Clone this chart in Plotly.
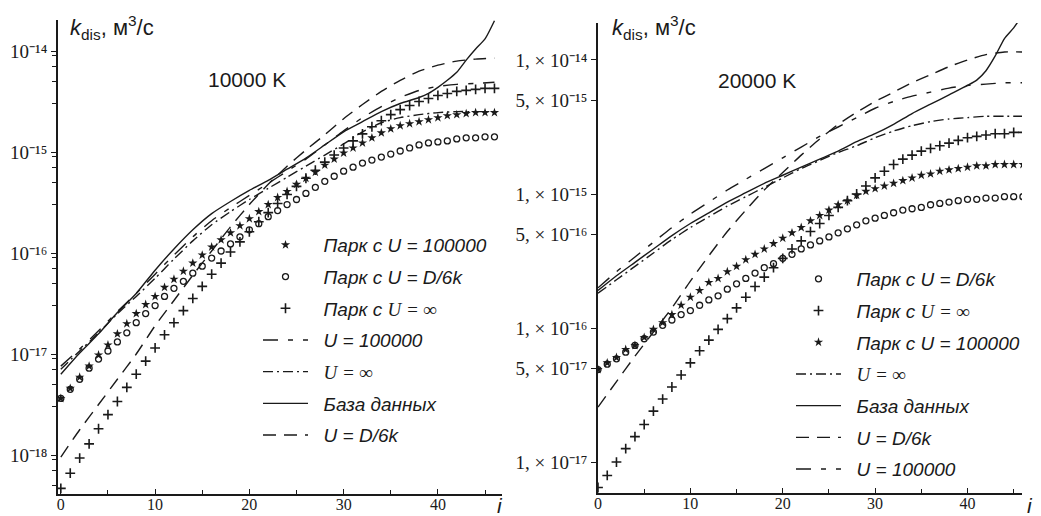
import plotly.graph_objects as go

W, H = 1041, 516

# ---------------- data (log10 of k_dis, m^3/s) ----------------
i_pts = list(range(47))

# 10000 K panel
L_park_100000 = [-17.44,-17.34,-17.23,-17.12,-17.01,-16.91,-16.80,-16.70,-16.60,-16.51,
                 -16.43,-16.34,-16.26,-16.18,-16.10,-16.02,-15.94,-15.87,-15.80,-15.73,
                 -15.66,-15.59,-15.52,-15.45,-15.39,-15.32,-15.26,-15.20,-15.13,-15.07,
                 -15.01,-14.96,-14.91,-14.86,-14.81,-14.77,-14.74,-14.72,-14.70,-14.68,
                 -14.66,-14.64,-14.63,-14.62,-14.61,-14.61,-14.61]
L_park_D6k = [-17.44,-17.35,-17.25,-17.14,-17.05,-16.97,-16.88,-16.79,-16.69,-16.60,
              -16.52,-16.43,-16.35,-16.28,-16.20,-16.13,-16.05,-15.98,-15.91,-15.84,
              -15.77,-15.71,-15.64,-15.58,-15.52,-15.47,-15.41,-15.35,-15.29,-15.24,
              -15.19,-15.15,-15.11,-15.08,-15.05,-15.02,-14.99,-14.96,-14.93,-14.91,
              -14.90,-14.89,-14.87,-14.86,-14.86,-14.85,-14.85]
L_park_inf = [-18.33,-18.18,-18.03,-17.89,-17.74,-17.60,-17.47,-17.33,-17.20,-17.07,
              -16.94,-16.81,-16.69,-16.57,-16.45,-16.33,-16.21,-16.10,-15.99,-15.89,
              -15.79,-15.69,-15.60,-15.51,-15.42,-15.34,-15.26,-15.18,-15.10,-15.03,
              -14.96,-14.89,-14.82,-14.75,-14.69,-14.63,-14.58,-14.54,-14.50,-14.47,
              -14.44,-14.42,-14.40,-14.39,-14.38,-14.37,-14.37]

i_lines = list(range(0, 47, 2))
L_u100000 = [-17.12,-16.95,-16.77,-16.58,-16.40,-16.21,-16.02,-15.84,-15.68,-15.55,
             -15.43,-15.31,-15.19,-15.07,-14.93,-14.79,-14.66,-14.55,-14.46,-14.39,
             -14.35,-14.33,-14.32,-14.31]
L_uinf = [-17.15,-16.97,-16.79,-16.60,-16.43,-16.25,-16.06,-15.88,-15.72,-15.59,
          -15.47,-15.36,-15.25,-15.14,-15.03,-14.92,-14.80,-14.71,-14.66,-14.63,
          -14.61,-14.60,-14.60,-14.60]
L_uD6k = [-18.02,-17.75,-17.50,-17.25,-17.00,-16.72,-16.47,-16.22,-15.98,-15.74,
          -15.52,-15.32,-15.14,-14.98,-14.83,-14.67,-14.53,-14.40,-14.29,-14.20,
          -14.14,-14.10,-14.08,-14.07]
i_db_L = [0,2,4,6,8,10,12,14,16,18,20,22,24,26,28,30,32,34,36,38,39,40,41,42,43,44,45,46]
L_db = [-17.20,-16.99,-16.80,-16.59,-16.40,-16.17,-15.96,-15.77,-15.61,-15.49,
        -15.38,-15.28,-15.17,-15.06,-14.93,-14.80,-14.70,-14.60,-14.52,-14.46,
        -14.42,-14.36,-14.29,-14.21,-14.09,-13.98,-13.88,-13.70]

# 20000 K panel
R_park_D6k = [-16.31,-16.27,-16.23,-16.18,-16.13,-16.08,-16.03,-15.98,-15.94,-15.90,
              -15.87,-15.83,-15.79,-15.76,-15.71,-15.67,-15.63,-15.59,-15.55,-15.52,
              -15.48,-15.45,-15.41,-15.38,-15.35,-15.32,-15.29,-15.26,-15.23,-15.20,
              -15.18,-15.16,-15.14,-15.12,-15.11,-15.10,-15.08,-15.07,-15.06,-15.05,
              -15.04,-15.04,-15.03,-15.03,-15.02,-15.02,-15.02]
R_park_inf = [-17.19,-17.10,-17.00,-16.90,-16.81,-16.72,-16.62,-16.53,-16.44,-16.35,
              -16.26,-16.17,-16.09,-16.01,-15.93,-15.85,-15.77,-15.69,-15.62,-15.55,
              -15.48,-15.41,-15.35,-15.28,-15.22,-15.16,-15.10,-15.05,-15.00,-14.94,
              -14.88,-14.83,-14.78,-14.74,-14.71,-14.68,-14.66,-14.64,-14.62,-14.60,
              -14.58,-14.57,-14.56,-14.55,-14.55,-14.54,-14.54]
R_park_100000 = [-16.31,-16.26,-16.22,-16.16,-16.13,-16.07,-16.01,-15.96,-15.90,-15.83,
                 -15.77,-15.72,-15.66,-15.63,-15.58,-15.54,-15.49,-15.45,-15.41,-15.37,
                 -15.33,-15.29,-15.25,-15.20,-15.16,-15.12,-15.08,-15.05,-15.01,-14.98,
                 -14.96,-14.94,-14.92,-14.90,-14.88,-14.86,-14.85,-14.83,-14.82,-14.81,
                 -14.80,-14.79,-14.79,-14.78,-14.78,-14.78,-14.78]
R_uinf = [-15.74,-15.64,-15.54,-15.44,-15.34,-15.25,-15.17,-15.09,-15.02,-14.95,
          -14.88,-14.81,-14.75,-14.69,-14.64,-14.58,-14.53,-14.49,-14.46,-14.44,
          -14.43,-14.42,-14.42,-14.42]
i_db_R = [0,2,4,6,8,10,12,14,16,18,20,22,24,26,28,30,32,34,36,38,40,41,42,43,44,45,46]
R_db = [-15.72,-15.61,-15.51,-15.41,-15.31,-15.22,-15.14,-15.06,-14.99,-14.92,
        -14.86,-14.80,-14.74,-14.68,-14.61,-14.55,-14.48,-14.40,-14.33,-14.26,
        -14.19,-14.15,-14.08,-13.97,-13.84,-13.76,-13.66]
R_uD6k = [-16.59,-16.40,-16.21,-16.03,-15.85,-15.65,-15.46,-15.28,-15.12,-14.97,
          -14.84,-14.71,-14.59,-14.48,-14.39,-14.31,-14.24,-14.17,-14.11,-14.05,
          -14.00,-13.96,-13.94,-13.94]
R_u100000 = [-15.70,-15.58,-15.47,-15.36,-15.25,-15.15,-15.06,-14.97,-14.89,-14.81,
             -14.73,-14.65,-14.57,-14.50,-14.43,-14.36,-14.31,-14.27,-14.24,-14.21,
             -14.19,-14.18,-14.17,-14.17]

x_ticks = [0, 10, 20, 30, 40]
x_minor = [5, 15, 25, 35, 45]
L_yticks = [1e-18, 1e-17, 1e-16, 1e-15, 1e-14]
L_yticktext = ["10⁻¹⁸", "10⁻¹⁷", "10⁻¹⁶", "10⁻¹⁵", "10⁻¹⁴"]
R_yticks = [1e-17, 5e-17, 1e-16, 5e-16, 1e-15, 5e-15, 1e-14]
R_yticktext = ["1, × 10⁻¹⁷", "5, × 10⁻¹⁷", "1, × 10⁻¹⁶", "5, × 10⁻¹⁶",
               "1, × 10⁻¹⁵", "5, × 10⁻¹⁵", "1, × 10⁻¹⁴"]

def vals(logs):
    return [10 ** v for v in logs]

SERIF = "Liberation Serif"
SANS = "Liberation Sans"
INF = "<span style='font-family:Liberation Serif'>U = ∞</span>"
BLK = "#1a1a1a"

DASH_D6K = "13px,8px"
DASH_1E5 = "15px,10px,5px,10px"
DASH_INF = "10px,4px,2px,4px"

def marker_style(kind):
    if kind == "star":
        return dict(symbol="star", size=7, color=BLK, line=dict(width=0))
    if kind == "circle":
        return dict(symbol="circle-open", size=6, color=BLK, line=dict(width=1.3, color=BLK))
    return dict(symbol="cross-thin", size=7, color=BLK, line=dict(width=1.6, color=BLK))

fig = go.Figure()

def add_markers(x, y, name, kind, xa, ya, leg, grp):
    fig.add_trace(go.Scatter(x=x, y=vals(y), mode="markers", name=name,
                             marker=marker_style(kind), xaxis=xa, yaxis=ya,
                             legend=leg, legendgroup=grp, cliponaxis=True))

def add_line(x, y, name, dash, xa, ya, leg, grp):
    fig.add_trace(go.Scatter(x=x, y=vals(y), mode="lines", name=name,
                             line=dict(color=BLK, width=1.4, dash=dash, shape="spline", smoothing=0.6),
                             xaxis=xa, yaxis=ya, legend=leg, legendgroup=grp))

pad = "\u00a0\u00a0"
# Left panel, legend order
add_markers(i_pts, L_park_100000, pad + "Парк с U = 100000", "star", "x", "y", "legend", "a1")
add_markers(i_pts, L_park_D6k, pad + "Парк с U = D/6k", "circle", "x", "y", "legend", "a2")
add_markers(i_pts, L_park_inf, pad + "Парк с " + INF, "plus", "x", "y", "legend", "a3")
add_line(i_lines, L_u100000, pad + "U = 100000", DASH_1E5, "x", "y", "legend", "a4")
add_line(i_lines, L_uinf, pad + INF, DASH_INF, "x", "y", "legend", "a5")
add_line(i_db_L, L_db, pad + "База данных", "solid", "x", "y", "legend", "a6")
add_line(i_lines, L_uD6k, pad + "U = D/6k", DASH_D6K, "x", "y", "legend", "a7")

# Right panel, legend order
add_markers(i_pts, R_park_D6k, pad + "Парк с U = D/6k", "circle", "x2", "y2", "legend2", "b1")
add_markers(i_pts, R_park_inf, pad + "Парк с " + INF, "plus", "x2", "y2", "legend2", "b2")
add_markers(i_pts, R_park_100000, pad + "Парк с U = 100000", "star", "x2", "y2", "legend2", "b3")
add_line(i_lines, R_uinf, pad + INF, DASH_INF, "x2", "y2", "legend2", "b4")
add_line(i_db_R, R_db, pad + "База данных", "solid", "x2", "y2", "legend2", "b5")
add_line(i_lines, R_uD6k, pad + "U = D/6k", DASH_D6K, "x2", "y2", "legend2", "b6")
add_line(i_lines, R_u100000, pad + "U = 100000", DASH_1E5, "x2", "y2", "legend2", "b7")

def px(x):
    return x / W

def py(y):
    return 1 - y / H

axis_common = dict(showline=True, linecolor=BLK, linewidth=1.6, showgrid=False,
                   zeroline=False, ticklen=5, tickwidth=1.4,
                   tickcolor=BLK, mirror=False, automargin=False)

xminor = dict(tickvals=x_minor, ticklen=4, tickwidth=1.2, tickcolor=BLK, ticks="inside")

fig.update_layout(
    width=W, height=H,
    margin=dict(l=0, r=0, t=0, b=0),
    paper_bgcolor="white", plot_bgcolor="white",
    font=dict(family=SANS, color=BLK),
    xaxis=dict(domain=[px(58), px(502)], range=[-0.3, 46.8], anchor="y", ticks="inside",
               tickvals=x_ticks, tickfont=dict(family=SERIF, size=16), ticklabelstandoff=-5,
               minor=xminor, **axis_common),
    yaxis=dict(domain=[py(494), py(20)], type="log", range=[-18.386, -13.693], anchor="x",
               ticks="outside", tickvals=L_yticks, ticktext=L_yticktext,
               tickfont=dict(family=SERIF, size=19),
               minor=dict(tickvals=[m * 10 ** e for e in range(-19, -13) for m in (3, 5, 7, 9)],
                          ticklen=4, tickwidth=1.2, tickcolor=BLK, ticks="outside"),
               **axis_common),
    xaxis2=dict(domain=[px(598), px(1022)], range=[0, 45.9], anchor="y2", ticks="inside",
                tickvals=x_ticks, tickfont=dict(family=SERIF, size=16), ticklabelstandoff=-5,
                minor=xminor, **axis_common),
    yaxis2=dict(domain=[py(493), py(23)], type="log", range=[-17.231, -13.724], anchor="x2",
                ticks="outside", tickvals=R_yticks, ticktext=R_yticktext,
                tickfont=dict(family=SERIF, size=19),
                **axis_common),
    legend=dict(x=px(258), y=py(226), xanchor="left", yanchor="top",
                bgcolor="rgba(0,0,0,0)", borderwidth=0, itemwidth=45,
                tracegroupgap=4, font=dict(family=SANS, size=19, style="italic", color=BLK)),
    legend2=dict(x=px(791), y=py(260), xanchor="left", yanchor="top",
                 bgcolor="rgba(0,0,0,0)", borderwidth=0, itemwidth=45,
                 tracegroupgap=4, font=dict(family=SANS, size=19, style="italic", color=BLK)),
    showlegend=True,
)

ann = [
    dict(x=px(68), y=py(28), text="<i>k</i><sub>dis</sub>, м<sup>3</sup>/с", xanchor="left", font=dict(size=22)),
    dict(x=px(610), y=py(28), text="<i>k</i><sub>dis</sub>, м<sup>3</sup>/с", xanchor="left", font=dict(size=22)),
    dict(x=px(247), y=py(79), text="10000 K", xanchor="center", font=dict(size=21)),
    dict(x=px(757), y=py(80), text="20000 K", xanchor="center", font=dict(size=21)),
    dict(x=px(500), y=py(505), text="<i>i</i>", xanchor="center", font=dict(size=21)),
    dict(x=px(1030), y=py(505), text="<i>i</i>", xanchor="center", font=dict(size=21)),
]
for a in ann:
    a.update(xref="paper", yref="paper", yanchor="middle", showarrow=False)
    a["font"].update(family=SANS, color=BLK)
fig.update_layout(annotations=ann)

fig.write_html(
    "out.html",
    config={"displayModeBar": False},
    post_script="document.body.style.margin='0';document.body.style.padding='0';document.body.style.overflow='hidden';",
)
